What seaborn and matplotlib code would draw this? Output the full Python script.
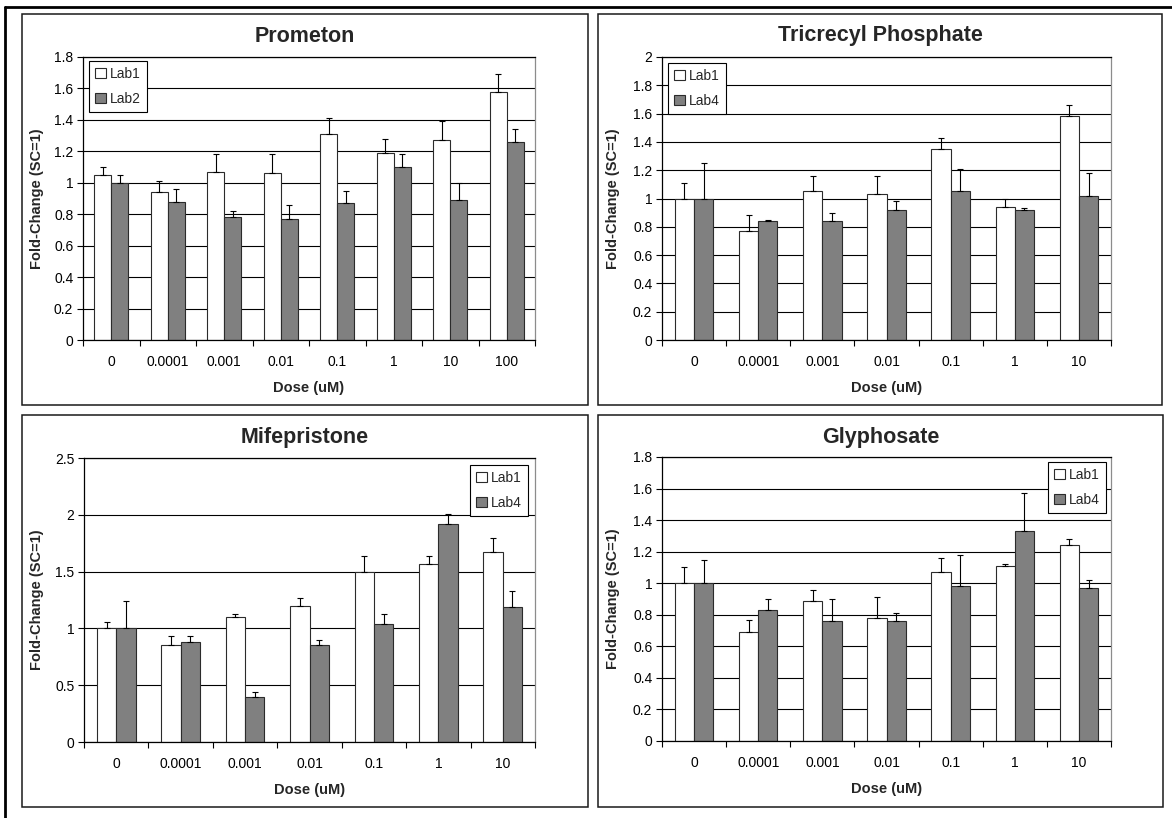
import numpy as np
import pandas as pd
import matplotlib
matplotlib.use("Agg")
import matplotlib.pyplot as plt
import seaborn as sns
from matplotlib.patches import Rectangle, Patch
from matplotlib.lines import Line2D

# ---------------- data ----------------
doses_8 = ["0", "0.0001", "0.001", "0.01", "0.1", "1", "10", "100"]
doses_7 = ["0", "0.0001", "0.001", "0.01", "0.1", "1", "10"]

prometon_lab1 = [1.05, 0.94, 1.07, 1.06, 1.31, 1.19, 1.27, 1.58]
prometon_lab1_err = [0.05, 0.07, 0.11, 0.12, 0.10, 0.09, 0.12, 0.11]
prometon_lab2 = [1.00, 0.88, 0.78, 0.77, 0.87, 1.10, 0.89, 1.26]
prometon_lab2_err = [0.05, 0.08, 0.04, 0.09, 0.08, 0.08, 0.11, 0.08]

tricresyl_lab1 = [1.00, 0.77, 1.05, 1.03, 1.35, 0.94, 1.58]
tricresyl_lab1_err = [0.11, 0.11, 0.11, 0.13, 0.08, 0.06, 0.08]
tricresyl_lab4 = [1.00, 0.84, 0.84, 0.92, 1.05, 0.92, 1.02]
tricresyl_lab4_err = [0.25, 0.01, 0.06, 0.06, 0.16, 0.01, 0.16]

mife_lab1 = [1.00, 0.85, 1.10, 1.20, 1.50, 1.57, 1.67]
mife_lab1_err = [0.06, 0.08, 0.03, 0.07, 0.14, 0.07, 0.13]
mife_lab4 = [1.00, 0.88, 0.40, 0.85, 1.04, 1.92, 1.19]
mife_lab4_err = [0.24, 0.05, 0.04, 0.05, 0.09, 0.09, 0.14]

glyph_lab1 = [1.00, 0.69, 0.89, 0.78, 1.07, 1.11, 1.24]
glyph_lab1_err = [0.10, 0.08, 0.07, 0.13, 0.09, 0.01, 0.04]
glyph_lab4 = [1.00, 0.83, 0.76, 0.76, 0.98, 1.33, 0.97]
glyph_lab4_err = [0.15, 0.07, 0.14, 0.05, 0.20, 0.24, 0.05]

titles = ["Prometon", "Tricrecyl Phosphate", "Mifepristone", "Glyphosate"]
y_label = "Fold-Change (SC=1)"
x_label = "Dose (uM)"

# ---------------- style ----------------
sns.set_style("ticks")
plt.rcParams["font.family"] = ["Liberation Sans", "DejaVu Sans"]
plt.rcParams["axes.linewidth"] = 0.9

W, H = 1172, 818
fig = plt.figure(figsize=(W / 100, H / 100), dpi=100)


def fx(px):
    return px / W


def fy(py):
    return 1 - py / H


# outer border (partially cropped at right/bottom)
fig.add_artist(Line2D([fx(5), fx(1172)], [fy(7), fy(7)], color="black", lw=2.0))
fig.add_artist(Line2D([fx(5), fx(5)], [fy(7), fy(818)], color="black", lw=2.0))

panels = [
    dict(title=titles[0], doses=doses_8, labs=["Lab1", "Lab2"],
         vals=[prometon_lab1, prometon_lab2], errs=[prometon_lab1_err, prometon_lab2_err],
         ymax=1.8, step=0.2, box=(22, 14, 588, 405), ax=(83, 57, 535, 340),
         leg=("upper left", 89, 61)),
    dict(title=titles[1], doses=doses_7, labs=["Lab1", "Lab4"],
         vals=[tricresyl_lab1, tricresyl_lab4], errs=[tricresyl_lab1_err, tricresyl_lab4_err],
         ymax=2.0, step=0.2, box=(598, 14, 1162, 405), ax=(662, 57, 1111, 340),
         leg=("upper left", 668, 63)),
    dict(title=titles[2], doses=doses_7, labs=["Lab1", "Lab4"],
         vals=[mife_lab1, mife_lab4], errs=[mife_lab1_err, mife_lab4_err],
         ymax=2.5, step=0.5, box=(22, 415, 588, 807), ax=(84, 458, 535, 742),
         leg=("upper right", 528, 465)),
    dict(title=titles[3], doses=doses_7, labs=["Lab1", "Lab4"],
         vals=[glyph_lab1, glyph_lab4], errs=[glyph_lab1_err, glyph_lab4_err],
         ymax=1.8, step=0.2, box=(598, 415, 1163, 807), ax=(662, 457, 1111, 741),
         leg=("upper right", 1106, 462)),
]

fill_colors = ["white", "#808080"]
edge_color = "#2b2b2b"

for p in panels:
    bx0, by0, bx1, by1 = p["box"]
    fig.add_artist(Rectangle((fx(bx0), fy(by1)), fx(bx1 - bx0), (by1 - by0) / H,
                             fill=False, edgecolor="#1a1a1a", lw=1.1))
    ax0, ay0, ax1, ay1 = p["ax"]
    ax = fig.add_axes([fx(ax0), fy(ay1), fx(ax1 - ax0), (ay1 - ay0) / H])

    rows = []
    for lab, v in zip(p["labs"], p["vals"]):
        for d, val in zip(p["doses"], v):
            rows.append({"dose": d, "lab": lab, "value": val})
    df = pd.DataFrame(rows)
    palette = dict(zip(p["labs"], fill_colors))
    sns.barplot(data=df, x="dose", y="value", hue="lab", order=p["doses"],
                hue_order=p["labs"], palette=palette, width=0.6, errorbar=None,
                edgecolor=edge_color, linewidth=0.8, saturation=1, legend=False,
                ax=ax, zorder=2)

    for cont, err in zip(ax.containers, p["errs"]):
        xs = [b.get_x() + b.get_width() / 2 for b in cont]
        hs = [b.get_height() for b in cont]
        ax.errorbar(xs, hs, yerr=[np.zeros(len(err)), err], fmt="none",
                    ecolor="black", elinewidth=0.8, capsize=2.5, capthick=0.8,
                    zorder=3)

    n = len(p["doses"])
    ax.set_xlim(-0.5, n - 0.5)
    ax.set_ylim(0, p["ymax"])
    yt = np.round(np.arange(0, p["ymax"] + 1e-9, p["step"]), 2)
    ax.set_yticks(yt)
    ax.set_yticklabels([f"{v:g}" for v in yt])
    ax.yaxis.grid(True, color="black", lw=0.8)
    ax.set_axisbelow(True)
    ax.set_xticks(np.arange(n))
    ax.set_xticklabels(p["doses"])
    ax.set_xticks(np.arange(n + 1) - 0.5, minor=True)
    ax.tick_params(axis="x", which="major", length=0, pad=10.5, labelsize=10,
                   colors="black")
    ax.tick_params(axis="x", which="minor", length=4, width=0.8, direction="out",
                   color="black")
    ax.tick_params(axis="y", length=4, width=0.8, direction="out", pad=3,
                   labelsize=10, colors="black")
    ax.set_xlabel("")
    ax.set_ylabel("")
    for s in ["left", "bottom", "top"]:
        ax.spines[s].set_color("black")
    ax.spines["right"].set_color("#8c8c8c")
    ax.set_facecolor("white")

    # legend
    loc, lx, ly = p["leg"]
    lxf = (lx - ax0) / (ax1 - ax0)
    lyf = 1 - (ly - ay0) / (ay1 - ay0)
    handles = [Patch(facecolor=c, edgecolor=edge_color, lw=0.8) for c in fill_colors]
    leg = ax.legend(handles, p["labs"], loc=loc, bbox_to_anchor=(lxf, lyf),
                    borderaxespad=0, frameon=True, fancybox=False, framealpha=1,
                    edgecolor="black", fontsize=10, handlelength=0.75,
                    handleheight=0.75, handletextpad=0.3, labelspacing=0.75,
                    borderpad=0.45)
    leg.get_frame().set_linewidth(0.8)
    leg.set_zorder(5)

    # titles and labels
    cx = (bx0 + bx1) / 2
    title_y = by0 + 22
    fig.text(fx(cx), fy(title_y), p["title"], ha="center", va="center",
             fontsize=15.5, fontweight="bold")
    fig.text(fx((ax0 + ax1) / 2), fy(ay1 + 48), x_label, ha="center",
             va="center", fontsize=10.5, fontweight="bold")
    fig.text(fx(bx0 + 15), fy((ay0 + ay1) / 2), y_label, ha="center",
             va="center", rotation=90, fontsize=10.5, fontweight="bold")

fig.savefig("out.png", dpi=100, facecolor="white")
